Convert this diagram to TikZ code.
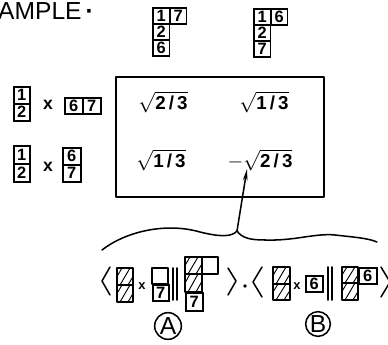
\documentclass[tikz,border=0pt]{standalone}
\usepackage{fontspec}
\setmainfont{Liberation Sans}
\usepackage{amsmath}
\usetikzlibrary{arrows.meta}
\tikzset{
  ink/.style={line width=1.3pt, line join=round, line cap=round},
  cellbox/.style={draw, line width=1.3pt, inner sep=0pt, anchor=north west,
     minimum width=0.5cm, minimum height=0.48cm, font=\bfseries\fontsize{14}{14}\selectfont},
  hatchline/.style={line width=0.8pt},
  entry/.style={font=\bfseries\fontsize{16}{16}\selectfont, inner sep=0pt},
  timesmark/.style={font=\bfseries\fontsize{15}{15}\selectfont, inner sep=0pt},
  smalltimes/.style={font=\bfseries\fontsize{11}{11}\selectfont, inner sep=0pt},
  circlab/.style={draw, circle, line width=1.3pt, inner sep=0pt, font=\fontsize{21}{21}\selectfont}
}
\newcommand\hcell[4]{%
  \draw[ink] (#1,#2) rectangle (#3,#4);
  \begin{scope}
    \clip (#1,#2) rectangle (#3,#4);
    \foreach \k in {-5,3,11} \draw[hatchline] ({#1+\k},#4) -- ({#1+\k+10},#2);
  \end{scope}}
\newcommand\ecell[4]{\draw[ink] (#1,#2) rectangle (#3,#4);}
\newcommand\rt[1]{$\sqrt{\text{#1}}$}
\begin{document}
\begin{tikzpicture}[x=0.03cm,y=-0.03cm]
\clip (0,0) rectangle (388,345);
\fill[white] (0,0) rectangle (388,345);
% title
\node[anchor=west, inner sep=0pt, font=\fontsize{21}{21}\selectfont] (title) at (-2,11) {AMPLE\,\textbf{·}};
% top tableaux
\node[cellbox] (ta1) at (152,7) {1};
\node[cellbox] (ta2) at (169,7) {7};
\node[cellbox] (ta3) at (152,23) {2};
\node[cellbox] (ta4) at (152,39) {6};
\node[cellbox] (tb1) at (253,8) {1};
\node[cellbox] (tb2) at (270,8) {6};
\node[cellbox] (tb3) at (253,24) {2};
\node[cellbox] (tb4) at (253,40) {7};
% left row 1
\node[cellbox, minimum width=0.48cm, minimum height=0.51cm] (la1) at (13,86) {1};
\node[cellbox, minimum width=0.48cm, minimum height=0.51cm] (la2) at (13,103) {2};
\node[timesmark] (lx1) at (48,105) {x};
\node[cellbox, minimum width=0.54cm] (lb1) at (64,97) {6};
\node[cellbox, minimum width=0.54cm] (lb2) at (82,97) {7};
% left row 2
\node[cellbox, minimum width=0.48cm, minimum height=0.54cm] (lc1) at (13,145) {1};
\node[cellbox, minimum width=0.48cm, minimum height=0.54cm] (lc2) at (13,163) {2};
\node[timesmark] (lx2) at (48,167) {x};
\node[cellbox, minimum width=0.54cm, minimum height=0.51cm] (ld1) at (62,147) {6};
\node[cellbox, minimum width=0.54cm, minimum height=0.51cm] (ld2) at (62,164) {7};
% main box
\draw[ink] (116,77) rectangle (324,197);
\node[entry] (e11) at (163,102) {\rt{2\,/\,3}};
\node[entry] (e12) at (264,102) {\rt{1\,/\,3}};
\node[entry] (e21) at (161,160) {\rt{1\,/\,3}};
\node[entry] (e22) at (260,160) {$-$\rt{2\,/\,3}};
% brace
\coordinate (tip) at (237,231);
\draw[ink] (102,250) .. controls (125,232) and (165,222) .. (200,232)
  .. controls (220,237) and (232,237) .. (tip);
\draw[ink] (tip) .. controls (242,238) and (250,240) .. (265,240)
  .. controls (295,241) and (315,233) .. (335,235)
  .. controls (352,237) and (368,238) .. (377,242);
\draw[ink, -{Stealth[length=10pt, width=4pt]}] (tip) -- (247,169);
% bottom A
\draw[ink] (110,267) -- (102,281) -- (110,295);
\hcell{117}{268}{133}{285}
\hcell{117}{285}{133}{302}
\node[smalltimes] (bx1) at (142,286) {x};
\ecell{152}{268}{168}{284}
\node[cellbox, minimum width=0.48cm, minimum height=0.48cm] (a7) at (152,284) {7};
\draw[ink] (173,268) -- (173,300);
\draw[ink] (177,268) -- (177,300);
\hcell{185}{257}{202}{274}
\ecell{202}{257}{218}{274}
\hcell{185}{274}{202}{292}
\node[cellbox, minimum width=0.51cm, minimum height=0.54cm] (a7b) at (185,292) {7};
\draw[ink] (228,268) -- (236,281) -- (228,295);
\fill (245,286) circle (1.8);
% bottom B
\draw[ink] (262,267) -- (253,282) -- (262,297);
\hcell{273}{267}{290}{284}
\hcell{273}{284}{290}{300}
\node[smalltimes] (bx2) at (297,286) {x};
\node[cellbox, minimum width=0.51cm, minimum height=0.48cm] (b6) at (305,275) {6};
\draw[ink] (328,267) -- (328,300);
\draw[ink] (332,267) -- (332,300);
\hcell{342}{267}{358}{283}
\node[cellbox, minimum width=0.54cm, minimum height=0.48cm] (b6b) at (358,267) {6};
\hcell{342}{283}{358}{300}
\draw[ink] (381,267) -- (390,282) -- (381,297);
% circled labels
\node[circlab, minimum size=0.8cm] (labA) at (168,326) {A};
\node[circlab, minimum size=0.74cm] (labB) at (318,324) {B};
\end{tikzpicture}
\end{document}
